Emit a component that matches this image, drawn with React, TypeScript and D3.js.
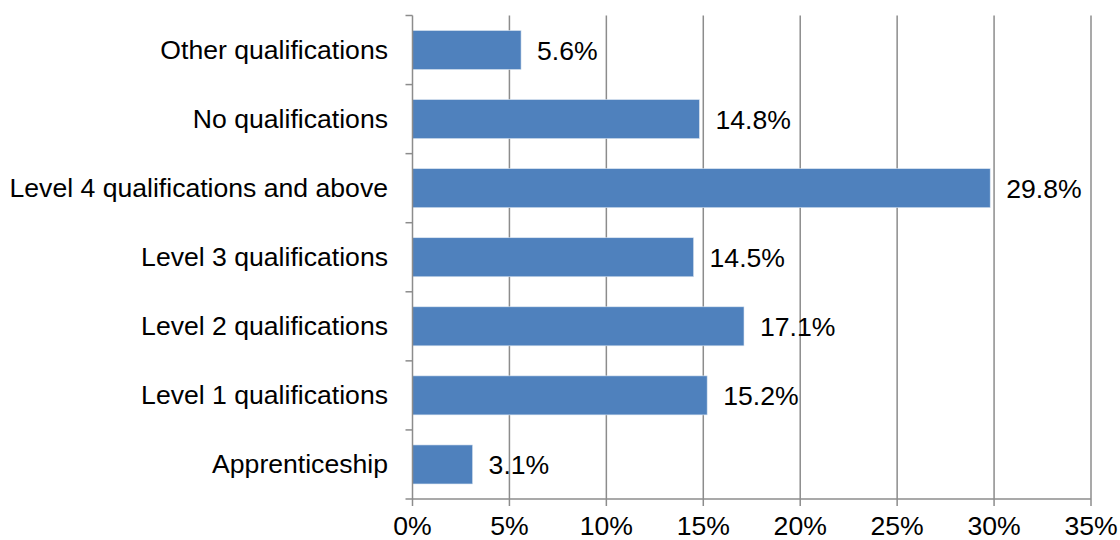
import { useEffect, useRef } from 'react';
import * as d3 from 'd3';

const categories = [
  'Other qualifications',
  'No qualifications',
  'Level 4 qualifications and above',
  'Level 3 qualifications',
  'Level 2 qualifications',
  'Level 1 qualifications',
  'Apprenticeship',
];
const values = [5.6, 14.8, 29.8, 14.5, 17.1, 15.2, 3.1];
const xTicks = [0, 5, 10, 15, 20, 25, 30, 35];

export default function App() {
  const ref = useRef<SVGSVGElement | null>(null);

  useEffect(() => {
    if (!ref.current) return;
    document.body.style.margin = '0';
    const svg = d3.select(ref.current);
    svg.selectAll('*').remove();

    const left = 412.5;
    const right = 1091;
    const top = 15.5;
    const bottom = 499;
    const font = 'Liberation Sans, Arial, sans-serif';
    const fontSize = 26.6;
    const gridColor = '#8c8c8c';

    const x = d3.scaleLinear().domain([0, 35]).range([left, right]);
    const y = d3
      .scaleBand<string>()
      .domain(categories)
      .range([top, bottom])
      .paddingInner(0.435)
      .paddingOuter(0.2175);

    // vertical gridlines + bottom ticks
    svg
      .append('g')
      .selectAll('line')
      .data(xTicks.slice(1))
      .join('line')
      .attr('x1', (d) => x(d))
      .attr('x2', (d) => x(d))
      .attr('y1', top)
      .attr('y2', bottom + 7)
      .attr('stroke', gridColor)
      .attr('stroke-width', 1.5);

    // bottom axis
    svg
      .append('line')
      .attr('x1', left - 7)
      .attr('x2', right)
      .attr('y1', bottom)
      .attr('y2', bottom)
      .attr('stroke', gridColor)
      .attr('stroke-width', 1.5);
    svg
      .append('line')
      .attr('x1', left)
      .attr('x2', left)
      .attr('y1', bottom)
      .attr('y2', bottom + 7)
      .attr('stroke', gridColor)
      .attr('stroke-width', 1.5);

    // bars
    svg
      .append('g')
      .selectAll('rect')
      .data(values)
      .join('rect')
      .attr('x', left)
      .attr('y', (_, i) => y(categories[i])!)
      .attr('width', (d) => x(d) - left)
      .attr('height', y.bandwidth())
      .attr('fill', '#4f81bd')
      .attr('stroke', '#dbe5f1')
      .attr('stroke-width', 0.6);

    // left axis with category ticks
    svg
      .append('line')
      .attr('x1', left)
      .attr('x2', left)
      .attr('y1', top)
      .attr('y2', bottom)
      .attr('stroke', gridColor)
      .attr('stroke-width', 1.5);
    const step = (bottom - top) / categories.length;
    svg
      .append('g')
      .selectAll('line')
      .data(d3.range(categories.length))
      .join('line')
      .attr('x1', left - 7)
      .attr('x2', left)
      .attr('y1', (i) => top + i * step)
      .attr('y2', (i) => top + i * step)
      .attr('stroke', gridColor)
      .attr('stroke-width', 1.5);

    // category labels
    svg
      .append('g')
      .selectAll('text')
      .data(categories)
      .join('text')
      .attr('x', 388)
      .attr('y', (d) => y(d)! + y.bandwidth() / 2)
      .attr('dy', '0.32em')
      .attr('text-anchor', 'end')
      .attr('font-family', font)
      .attr('font-size', fontSize)
      .attr('fill', '#000')
      .text((d) => d);

    // value labels
    svg
      .append('g')
      .selectAll('text')
      .data(values)
      .join('text')
      .attr('x', (d) => x(d) + 16)
      .attr('y', (_, i) => y(categories[i])! + y.bandwidth() / 2)
      .attr('dy', '0.36em')
      .attr('font-family', font)
      .attr('font-size', fontSize)
      .attr('fill', '#000')
      .text((d) => `${d.toFixed(1)}%`);

    // x tick labels
    svg
      .append('g')
      .selectAll('text')
      .data(xTicks)
      .join('text')
      .attr('x', (d) => x(d))
      .attr('y', 535)
      .attr('text-anchor', 'middle')
      .attr('font-family', font)
      .attr('font-size', fontSize)
      .attr('fill', '#000')
      .text((d) => `${d}%`);
  }, []);

  return (
    <svg
      ref={ref}
      width={1120}
      height={540}
      viewBox="0 0 1120 540"
      style={{ display: 'block', background: '#fff' }}
    />
  );
}
